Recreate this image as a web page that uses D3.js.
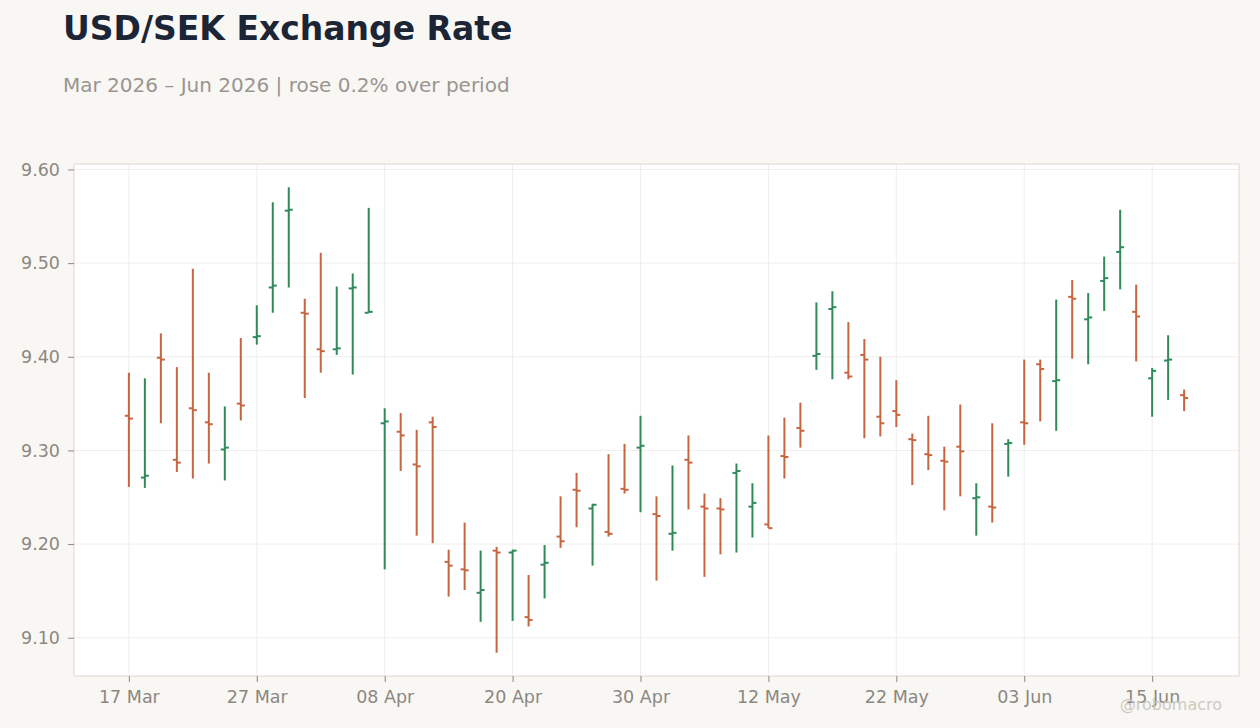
<!DOCTYPE html>
<html>
<head>
<meta charset="utf-8">
<script src="https://cdn.jsdelivr.net/npm/d3@7"></script>
<style>
  html, body { margin: 0; padding: 0; background: #f8f7f4; }
  svg { display: block; font-family: "DejaVu Sans", sans-serif; }
</style>
</head>
<body>
<div id="chart"></div>
<script>
const width = 1260;
const height = 728;

// OHLC values, one per trading day starting 17 Mar 2026
const startDate = new Date(2026, 2, 17);
const openVals = [9.337, 9.271, 9.399, 9.290, 9.345, 9.330, 9.301, 9.350, 9.421, 9.474, 9.556, 9.447, 9.408, 9.408, 9.473, 9.447,
    9.329, 9.320, 9.285, 9.330, 9.181, 9.173, 9.148, 9.193, 9.191, 9.122, 9.178, 9.208, 9.258, 9.238, 9.213, 9.259,
    9.303, 9.232, 9.211, 9.290, 9.240, 9.238, 9.276, 9.240, 9.221, 9.294, 9.324, 9.401, 9.451, 9.383, 9.402, 9.336,
    9.342, 9.312, 9.296, 9.289, 9.304, 9.249, 9.240, 9.307, 9.330, 9.392, 9.374, 9.464, 9.440, 9.481, 9.512, 9.448,
    9.377, 9.396, 9.359];
const highVals = [9.383, 9.377, 9.425, 9.389, 9.494, 9.383, 9.347, 9.420, 9.455, 9.565, 9.581, 9.462, 9.511, 9.475, 9.489, 9.559,
    9.345, 9.340, 9.322, 9.336, 9.194, 9.223, 9.193, 9.197, 9.194, 9.167, 9.199, 9.251, 9.276, 9.243, 9.296, 9.307,
    9.337, 9.251, 9.284, 9.316, 9.254, 9.249, 9.286, 9.265, 9.316, 9.335, 9.351, 9.458, 9.470, 9.437, 9.419, 9.400,
    9.375, 9.318, 9.337, 9.304, 9.349, 9.265, 9.329, 9.312, 9.397, 9.397, 9.461, 9.482, 9.468, 9.507, 9.557, 9.477,
    9.388, 9.423, 9.365];
const lowVals = [9.261, 9.260, 9.329, 9.277, 9.270, 9.286, 9.268, 9.332, 9.413, 9.447, 9.474, 9.356, 9.383, 9.402, 9.381, 9.447,
    9.173, 9.278, 9.209, 9.201, 9.144, 9.151, 9.117, 9.084, 9.118, 9.112, 9.142, 9.196, 9.218, 9.177, 9.208, 9.254,
    9.234, 9.161, 9.193, 9.237, 9.165, 9.189, 9.191, 9.207, 9.217, 9.270, 9.303, 9.386, 9.376, 9.376, 9.313, 9.315,
    9.325, 9.263, 9.279, 9.236, 9.251, 9.209, 9.223, 9.272, 9.306, 9.331, 9.321, 9.398, 9.392, 9.449, 9.472, 9.395,
    9.336, 9.354, 9.342];
const closeVals = [9.334, 9.273, 9.397, 9.287, 9.343, 9.328, 9.303, 9.348, 9.422, 9.476, 9.557, 9.446, 9.406, 9.409, 9.474, 9.448,
    9.331, 9.316, 9.283, 9.325, 9.177, 9.172, 9.151, 9.191, 9.193, 9.119, 9.180, 9.203, 9.257, 9.242, 9.211, 9.258,
    9.305, 9.230, 9.212, 9.287, 9.238, 9.237, 9.278, 9.244, 9.217, 9.293, 9.321, 9.403, 9.453, 9.379, 9.397, 9.329,
    9.338, 9.311, 9.295, 9.288, 9.299, 9.250, 9.239, 9.308, 9.329, 9.387, 9.375, 9.462, 9.442, 9.484, 9.517, 9.443,
    9.385, 9.397, 9.356];
const yTickVals = [9.10, 9.20, 9.30, 9.40, 9.50, 9.60];
const xTickEvery = 8;

const upColor = "#2e8b57";
const downColor = "#c8643f";

// trading days (weekdays) from the start date
const dates = [];
let d = new Date(startDate);
while (dates.length < openVals.length) {
    if (d.getDay() !== 0 && d.getDay() !== 6) dates.push(new Date(d));
    d = d3.timeDay.offset(d, 1);
}

const data = openVals.map((o, i) => ({
    i: i, date: dates[i], open: o, high: highVals[i], low: lowVals[i], close: closeVals[i]
}));

const margin = {top: 164, right: 21, bottom: 52, left: 74};
const innerW = width - margin.left - margin.right;
const innerH = height - margin.top - margin.bottom;

const svg = d3.select("#chart")
    .append("svg")
    .attr("width", width)
    .attr("height", height);

svg.append("rect")
    .attr("width", width)
    .attr("height", height)
    .attr("fill", "#f8f7f4");

// Title + subtitle
const first = data[0].open, last = data[data.length - 1].close;
const pct = (last / first - 1) * 100;
svg.append("text")
    .attr("x", 63)
    .attr("y", 40)
    .attr("fill", "#1c2536")
    .style("font-size", "33px")
    .style("font-weight", "bold")
    .text("USD/SEK Exchange Rate");

svg.append("text")
    .attr("x", 63)
    .attr("y", 92)
    .attr("fill", "#9a9590")
    .style("font-size", "20px")
    .text(`Mar 2026 \u2013 Jun 2026 | ${pct >= 0 ? "rose" : "fell"} ${Math.abs(pct).toFixed(1)}% over period`);

const g = svg.append("g").attr("transform", `translate(${margin.left},${margin.top})`);

// scales: x is the trading-day index, y has 5% padding around the range
const n = data.length;
const xPad = (n - 1) * 0.052;
const x = d3.scaleLinear()
    .domain([-xPad, n - 1 + xPad])
    .range([0, innerW]);

const yMin = d3.min(lowVals), yMax = d3.max(highVals);
const yPad = (yMax - yMin) * 0.05;
const y = d3.scaleLinear()
    .domain([yMin - yPad, yMax + yPad])
    .range([innerH, 0]);

g.append("rect")
    .attr("width", innerW)
    .attr("height", innerH)
    .attr("fill", "#ffffff");

const xTickIdx = d3.range(0, n, xTickEvery);

// gridlines
g.append("g")
    .selectAll("line")
    .data(yTickVals)
    .join("line")
    .attr("x1", 0).attr("x2", innerW)
    .attr("y1", v => y(v)).attr("y2", v => y(v))
    .attr("stroke", "#efeeec");

g.append("g")
    .selectAll("line")
    .data(xTickIdx)
    .join("line")
    .attr("x1", i => x(i)).attr("x2", i => x(i))
    .attr("y1", 0).attr("y2", innerH)
    .attr("stroke", "#efeeec");

// bars
const bars = g.append("g")
    .selectAll("g")
    .data(data)
    .join("g")
    .attr("stroke", b => b.close >= b.open ? upColor : downColor)
    .attr("stroke-width", 2);

bars.append("line")
    .attr("x1", b => x(b.i)).attr("x2", b => x(b.i))
    .attr("y1", b => y(b.high)).attr("y2", b => y(b.low));

bars.append("line")
    .attr("x1", b => x(b.i) - 4).attr("x2", b => x(b.i))
    .attr("y1", b => y(b.open)).attr("y2", b => y(b.open));

bars.append("line")
    .attr("x1", b => x(b.i)).attr("x2", b => x(b.i) + 4)
    .attr("y1", b => y(b.close)).attr("y2", b => y(b.close));

// plot frame
g.append("rect")
    .attr("width", innerW)
    .attr("height", innerH)
    .attr("fill", "none")
    .attr("stroke", "#ddd7ce");

// axes
const fmt = d3.timeFormat("%d %b");
const xAxis = g.append("g")
    .attr("transform", `translate(0,${innerH})`)
    .call(d3.axisBottom(x).tickValues(xTickIdx).tickFormat(i => fmt(dates[i])).tickSize(6).tickPadding(9));

const yAxis = g.append("g")
    .call(d3.axisLeft(y).tickValues(yTickVals).tickFormat(d3.format(".2f")).tickSize(6).tickPadding(8));

[xAxis, yAxis].forEach(a => {
    a.select(".domain").remove();
    a.selectAll(".tick line").attr("stroke", "#8c8781");
    a.selectAll(".tick text")
        .attr("fill", "#8c8781")
        .style("font-family", "DejaVu Sans, sans-serif")
        .style("font-size", "17.5px");
});

// watermark
svg.append("text")
    .attr("x", 1222)
    .attr("y", 710)
    .attr("text-anchor", "end")
    .attr("fill", "#cdc9c3")
    .style("font-size", "16px")
    .text("@robomacro");
</script>
</body>
</html>
